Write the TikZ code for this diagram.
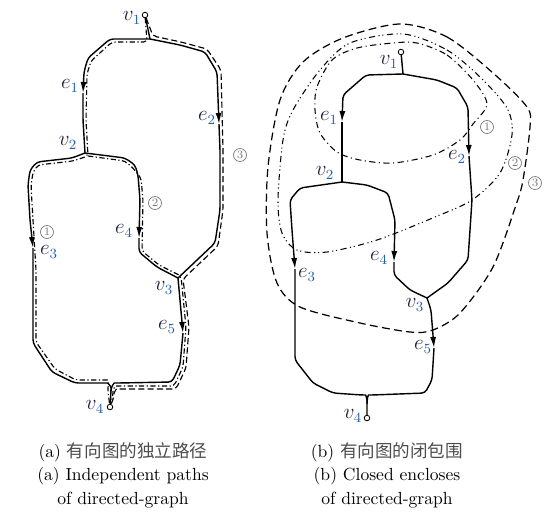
\documentclass[tikz,border=0pt]{standalone}
\usepackage{fontspec}
\newfontfamily\cjk{Noto Sans CJK SC}
\usepackage{xcolor}
\definecolor{ink}{HTML}{1B1F3A}
\definecolor{sub}{HTML}{1F5FAF}
\definecolor{muted}{HTML}{7A7A7A}
\usepackage{tikz}
\usetikzlibrary{arrows.meta}

\begin{document}
\begin{tikzpicture}[x=0.02cm,y=-0.02cm,
  edge/.style={line width=0.8pt,line join=round,rounded corners=2pt},
  tip/.style={edge,-{Latex[length=2.2mm,width=1.2mm]}},
  pathdd/.style={line width=0.65pt,line join=round,rounded corners=2pt,dash pattern=on 3pt off 1.4pt on 0.7pt off 1.4pt},
  pathds/.style={line width=0.65pt,line join=round,rounded corners=2pt,dash pattern=on 3.5pt off 1.8pt},
  encone/.style={line width=0.6pt,dash pattern=on 3.5pt off 2pt on 0.6pt off 2pt},
  enctwo/.style={line width=0.6pt,dash pattern=on 3.5pt off 2pt on 0.6pt off 1.6pt on 0.6pt off 2pt},
  encthree/.style={line width=0.7pt,dash pattern=on 4.5pt off 2.5pt},
  vtx/.style={circle,draw,fill=white,inner sep=0pt,minimum size=1.1mm,line width=0.5pt},
  lbl/.style={text=ink,inner sep=1pt,font=\large},
  cnum/.style={circle,draw=muted,text=muted,inner sep=0pt,minimum size=2.6mm,font=\fontsize{6.5}{6.5}\selectfont},
  captext/.style={text=black,font=\normalsize}]
  \useasboundingbox (0,0) rectangle (552,525);

  % graph (a)
  \node[vtx] (a1) at (145,15) {};
  \coordinate (aj) at (150,39);
  \coordinate (a2) at (85,153);
  \coordinate (a3) at (178,278);
  \node[vtx] (a4) at (110,407) {};
  \coordinate (ak) at (111,391);
  \draw[edge] (a1) -- (aj);
  \draw[tip] (aj) -- (110,39) -- (88,58) -- (84,72) -- (83,93);
  \draw[edge] (83,93) -- (83,120) -- (a2);
  \draw[tip] (aj) -- (180,45) -- (205,52) -- (217,72) -- (219,124);
  \draw[edge] (219,124) -- (220,150) -- (220,210) -- (215,243) -- (a3);
  \draw[tip] (a2) -- (72,158) -- (37,162) -- (30,170) -- (28,185) -- (30,220) -- (33,248);
  \draw[edge] (33,248) -- (33,343) -- (52,372) -- (75,383) -- (104,383) to[out=0,in=90] (ak) -- (a4);
  \draw[tip] (a2) -- (125,158) -- (135,165) -- (138,175) -- (140,200) -- (139,238);
  \draw[edge] (139,238) -- (139,252) -- (157,267) -- (a3);
  \draw[tip] (a3) -- (183,333);
  \draw[edge] (183,333) -- (180,365) -- (172,382) -- (118,383) to[out=180,in=90] (ak);
  % independent paths
  \draw[pathdd] (a1) -- (147,42) -- (112,42) -- (91,61) -- (87,74) -- (86,120) -- (88,156) -- (73,161)
    -- (38,165) -- (33,172) -- (31,186) -- (33,220) -- (36,270) -- (36,342) -- (55,369) -- (76,380)
    -- (104,380) to[out=0,in=90] (108,392) -- (a4);
  \draw[pathdd] (88,156) -- (125,161) -- (133,168) -- (141,178) -- (143,200) -- (142,251) -- (159,265)
    -- (181,276) -- (186,327) -- (183,367) -- (174,386) -- (119,386) to[out=180,in=90] (113,395) -- (a4);
  \draw[pathds] (a1) -- (153,36) -- (181,42) -- (207,49) -- (221,70) -- (223,150) -- (223,210)
    -- (218,246) -- (183,279) -- (189,327) -- (186,368) -- (176,389) -- (120,389) to[out=180,in=90] (114,397) -- (a4);
  % labels (a)
  \node[lbl] (la1) at (132,18) {$v_{\color{sub}1}$};
  \node[lbl] (la2) at (68,143) {$v_{\color{sub}2}$};
  \node[lbl] (la3) at (164,288) {$v_{\color{sub}3}$};
  \node[lbl] (la4) at (95,407) {$v_{\color{sub}4}$};
  \node[lbl] (lae1) at (70,86) {$e_{\color{sub}1}$};
  \node[lbl] (lae2) at (207,118) {$e_{\color{sub}2}$};
  \node[lbl] (lae3) at (49,252) {$e_{\color{sub}3}$};
  \node[lbl] (lae4) at (124,231) {$e_{\color{sub}4}$};
  \node[lbl] (lae5) at (167,327) {$e_{\color{sub}5}$};
  \node[cnum] (ca1) at (47,232) {1};
  \node[cnum] (ca2) at (155,203) {2};
  \node[cnum] (ca3) at (240,155) {3};

  % graph (b)
  \node[vtx] (b1) at (401,52) {};
  \coordinate (bj) at (403,74);
  \coordinate (b2) at (342,182);
  \coordinate (b3) at (427,298);
  \node[vtx] (b4) at (367,418) {};
  \coordinate (bk) at (367,404);
  \draw[edge] (b1) -- (bj);
  \draw[tip] (bj) -- (366,75) -- (343,95) -- (342,122);
  \draw[edge] (342,122) -- (b2);
  \draw[tip] (bj) -- (437,80) -- (457,88) -- (468,107) -- (469,156);
  \draw[edge] (469,156) -- (472,200) -- (468,260) -- (448,283) -- (b3);
  \draw[tip] (b2) -- (300,188) -- (290,200) -- (292,230) -- (295,269);
  \draw[edge] (295,269) -- (295,360) -- (313,383) -- (333,393) -- (362,395) to[out=0,in=90] (bk) -- (b4);
  \draw[tip] (b2) -- (367,185) -- (388,193) -- (395,220) -- (394,262);
  \draw[edge] (394,262) -- (394,275) -- (410,290) -- (b3);
  \draw[tip] (b3) -- (431,310) -- (434,348);
  \draw[edge] (434,348) -- (432,380) -- (425,393) -- (372,395) to[out=180,in=90] (bk);
  % closed encloses
  \draw[encone] plot[smooth cycle] coordinates {(417,43) (447,55) (473,80) (487,104) (473,124)
    (460,140) (433,155) (393,163) (360,160) (337,152) (320,133) (315,110) (317,87) (332,60) (357,48) (393,43)};
  \draw[enctwo] plot[smooth cycle] coordinates {(403,34) (447,50) (480,77) (507,108) (512,135)
    (500,173) (472,200) (435,217) (377,240) (327,252) (297,250) (282,233) (278,200) (283,140)
    (293,110) (320,70) (350,43)};
  \draw[encthree] plot[smooth cycle] coordinates {(400,24) (447,37) (493,73) (527,107) (530,127)
    (523,180) (516,205) (493,267) (460,313) (433,330) (410,332) (360,323) (300,307) (277,283)
    (267,233) (268,167) (280,100) (303,62) (343,38)};
  % labels (b)
  \node[lbl] (lb1) at (389,62) {$v_{\color{sub}1}$};
  \node[lbl] (lb2) at (325,173) {$v_{\color{sub}2}$};
  \node[lbl] (lb3) at (415,305) {$v_{\color{sub}3}$};
  \node[lbl] (lb4) at (353,416) {$v_{\color{sub}4}$};
  \node[lbl] (lbe1) at (329,118) {$e_{\color{sub}1}$};
  \node[lbl] (lbe2) at (457,157) {$e_{\color{sub}2}$};
  \node[lbl] (lbe3) at (307,275) {$e_{\color{sub}3}$};
  \node[lbl] (lbe4) at (379,258) {$e_{\color{sub}4}$};
  \node[lbl] (lbe5) at (423,347) {$e_{\color{sub}5}$};
  \node[cnum] (cb1) at (487,127) {1};
  \node[cnum] (cb2) at (515,163) {2};
  \node[cnum] (cb3) at (535,183) {3};

  % captions
  \node[captext] (capa1) at (123,452) {(a) {\cjk\color{black!70} 有向图的独立路径}};
  \node[captext] (capa2) at (123,476) {(a) Independent paths};
  \node[captext] (capa3) at (123,500) {of directed-graph};
  \node[captext] (capb1) at (387,452) {(b) {\cjk\color{black!70} 有向图的闭包围}};
  \node[captext] (capb2) at (387,476) {(b) Closed encloses};
  \node[captext] (capb3) at (387,500) {of directed-graph};
\end{tikzpicture}
\end{document}
